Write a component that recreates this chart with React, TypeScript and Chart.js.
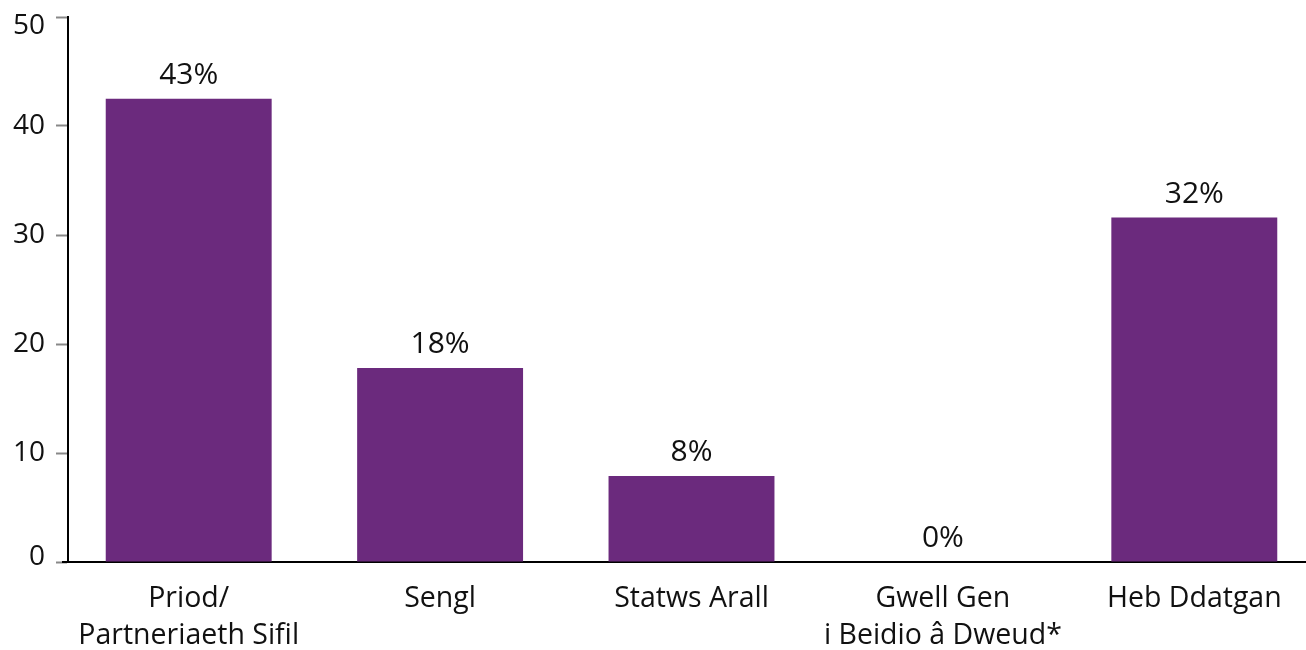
import React, { useEffect, useRef } from "react";
import { Chart, registerables } from "chart.js";

Chart.register(...registerables);

const categories: (string | string[])[] = [
  ["Priod/", "Partneriaeth Sifil"],
  "Sengl",
  "Statws Arall",
  ["Gwell Gen", "i Beidio â Dweud*"],
  "Heb Ddatgan",
];
const values = [42.5, 17.8, 7.9, 0, 31.6];
const valueLabels = ["43%", "18%", "8%", "0%", "32%"];
const yTicks = [0, 10, 20, 30, 40, 50];

const FONT = "'Open Sans', 'Noto Sans', sans-serif";

const labelPlugin = {
  id: "valueLabels",
  afterDatasetsDraw(chart: any) {
    const { ctx } = chart;
    const meta = chart.getDatasetMeta(0);
    ctx.save();
    ctx.font = `500 30px ${FONT}`;
    ctx.fillStyle = "#111";
    ctx.textAlign = "center";
    ctx.textBaseline = "alphabetic";
    meta.data.forEach((bar: any, i: number) => {
      ctx.fillText(valueLabels[i], bar.x, bar.y - 15);
    });
    ctx.restore();
  },
};

// y tick labels, kept inside the plot's vertical extent like the original
const yLabelPlugin = {
  id: "yLabels",
  afterDraw(chart: any) {
    const { ctx, chartArea } = chart;
    const y = chart.scales.y;
    ctx.save();
    ctx.font = `28px ${FONT}`;
    ctx.fillStyle = "#111";
    ctx.textAlign = "right";
    ctx.textBaseline = "middle";
    yTicks.forEach((v) => {
      const py = Math.min(Math.max(y.getPixelForValue(v), chartArea.top + 9), chartArea.bottom - 5);
      ctx.fillText(String(v), y.right - 23, py);
    });
    ctx.restore();
  },
};

const areaPlugin = {
  id: "fixArea",
  afterLayout(chart: any) {
    const x = chart.scales.x;
    const y = chart.scales.y;
    const top = 17;
    const bottom = 562;
    y.top = top;
    y.bottom = bottom;
    y.height = bottom - top;
    y.configure();
    x.top = bottom;
    x.bottom = 650;
    x.height = 650 - bottom;
    x.left = 63;
    x.right = 1320;
    x.width = x.right - x.left;
    x.configure();
    chart.chartArea.top = top;
    chart.chartArea.bottom = bottom;
    chart.chartArea.height = bottom - top;
  },
};

export default function App() {
  const ref = useRef<HTMLCanvasElement | null>(null);
  useEffect(() => {
    document.body.style.margin = "0";
    const chart = new Chart(ref.current!, {
      type: "bar",
      data: {
        labels: categories,
        datasets: [
          {
            data: values,
            backgroundColor: "#6b2a7d",
            barPercentage: 0.66,
            categoryPercentage: 1,
          },
        ],
      },
      plugins: [areaPlugin, labelPlugin, yLabelPlugin],
      options: {
        animation: false,
        responsive: false,
        layout: { padding: { top: 3, right: 0, left: 0, bottom: 0 } },
        plugins: { legend: { display: false }, tooltip: { enabled: false } },
        scales: {
          x: {
            grid: { display: false, drawTicks: false },
            border: { color: "#000", width: 2 },
            ticks: {
              color: "#111",
              padding: 18,
              font: { family: FONT, size: 28.5, lineHeight: 1.3 },
              maxRotation: 0,
              autoSkip: false,
            },
          },
          y: {
            min: 0,
            max: 50,
            afterBuildTicks: (scale: any) => {
              scale.ticks = yTicks.map((v) => ({ value: v }));
            },
            afterFit: (scale: any) => {
              scale.width = 68;
            },
            grid: {
              drawOnChartArea: false,
              drawTicks: true,
              tickLength: 12,
              tickColor: "#888",
              tickWidth: 2,
            },
            border: { color: "#000", width: 2 },
            ticks: {
              display: false,
            },
          },
        },
      },
    });
    return () => chart.destroy();
  }, []);
  return <canvas ref={ref} width={1306} height={650} style={{ display: "block" }} />;
}
